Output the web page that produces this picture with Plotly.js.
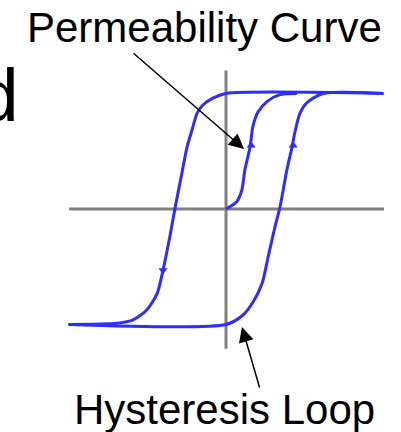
<!DOCTYPE html>
<html>
<head>
<meta charset="utf-8">
<script src="https://cdn.plot.ly/plotly-3.0.1.min.js"></script>
<style>html,body{margin:0;padding:0;background:#fff;}#chart{width:401px;height:432px;}</style>
</head>
<body>
<div id="chart"></div>
<script>
// Descending branch of the hysteresis loop (H, B), normalised units
var descH = [3.0, 0.0, -0.25, -0.44, -0.55, -0.65, -0.74, -0.84, -0.97, -1.07, -1.20, -1.31, -1.50, -1.77, -2.08, -3.0];
var descB = [1.0, 1.0, 0.96, 0.90, 0.83, 0.68, 0.54, 0.31, 0.01, -0.24, -0.53, -0.73, -0.87, -0.96, -0.99, -1.0];
// Ascending branch of the hysteresis loop
var ascH = [-3.0, 0.0, 0.32, 0.51, 0.69, 0.80, 0.93, 1.03, 1.16, 1.26, 1.31, 1.41, 1.54, 1.85, 3.0];
var ascB = [-1.0, -1.0, -0.92, -0.81, -0.64, -0.42, -0.16, 0.02, 0.34, 0.54, 0.66, 0.83, 0.92, 1.0, 1.0];
// Initial permeability (magnetisation) curve
var permH = [0.0, 0.20, 0.30, 0.36, 0.46, 0.51, 0.61, 0.78, 1.03, 1.35];
var permB = [0.0, 0.06, 0.16, 0.34, 0.54, 0.71, 0.84, 0.93, 0.99, 1.0];
// Direction arrows on the curves
var arrowH = [0.48, 1.28, -1.20];
var arrowB = [0.55, 0.55, -0.53];
var arrowSym = ['triangle-up', 'triangle-up', 'triangle-down'];
// Labels
var labelPerm = 'Permeability Curve';
var labelLoop = 'Hysteresis Loop';
var labelCut = 'd';

var blue = 'rgb(45,45,255)';
var lineStyle = {color: blue, width: 3, shape: 'spline', smoothing: 0.7};

var traces = [
  {x: descH, y: descB, mode: 'lines', line: lineStyle, hoverinfo: 'skip'},
  {x: ascH, y: ascB, mode: 'lines', line: lineStyle, hoverinfo: 'skip'},
  {x: permH, y: permB, mode: 'lines', line: lineStyle, hoverinfo: 'skip'},
  {x: arrowH, y: arrowB, mode: 'markers', marker: {symbol: arrowSym, size: 8, color: blue}, hoverinfo: 'skip'}
];

var W = 401, Hpx = 432;
function px(x) { return x / W; }
function py(y) { return 1 - y / Hpx; }

var layout = {
  width: W, height: Hpx,
  margin: {l: 0, r: 0, t: 0, b: 0, pad: 0},
  paper_bgcolor: '#fff', plot_bgcolor: '#fff',
  showlegend: false,
  xaxis: {range: [-226 / 52.5, 175 / 52.5], visible: false, fixedrange: true},
  yaxis: {range: [(209 - 432) / 115.5, 209 / 115.5], visible: false, fixedrange: true},
  shapes: [
    {type: 'line', layer: 'below', xref: 'x', yref: 'y', x0: -2.99, x1: 3.01, y0: 0, y1: 0, line: {color: '#808080', width: 3}},
    {type: 'line', layer: 'below', xref: 'x', yref: 'y', x0: 0, x1: 0, y0: -1.21, y1: 1.20, line: {color: '#808080', width: 3}}
  ],
  annotations: [
    {text: labelPerm, xref: 'paper', yref: 'paper', x: px(204.5), y: py(27), xanchor: 'center', yanchor: 'middle', showarrow: false,
     font: {family: 'Liberation Sans, Arial, sans-serif', size: 42, color: '#000'}},
    {text: labelLoop, xref: 'paper', yref: 'paper', x: px(224.5), y: py(409), xanchor: 'center', yanchor: 'middle', showarrow: false,
     font: {family: 'Liberation Sans, Arial, sans-serif', size: 42, color: '#000'}},
    {text: labelCut, xref: 'paper', yref: 'paper', x: px(21), y: py(95), xanchor: 'right', yanchor: 'middle', showarrow: false,
     font: {family: 'Liberation Sans, Arial, sans-serif', size: 75, color: '#000'}},
    {text: '', xref: 'paper', yref: 'paper', x: px(244), y: py(149), axref: 'pixel', ayref: 'pixel', ax: -112, ay: -97,
     showarrow: true, arrowhead: 2, arrowsize: 2, arrowwidth: 1.5, arrowcolor: '#000'},
    {text: '', xref: 'paper', yref: 'paper', x: px(242), y: py(327), axref: 'pixel', ayref: 'pixel', ax: 18, ay: 62,
     showarrow: true, arrowhead: 2, arrowsize: 2, arrowwidth: 1.5, arrowcolor: '#000'}
  ]
};

Plotly.newPlot('chart', traces, layout, {displayModeBar: false, staticPlot: true});
</script>
</body>
</html>
